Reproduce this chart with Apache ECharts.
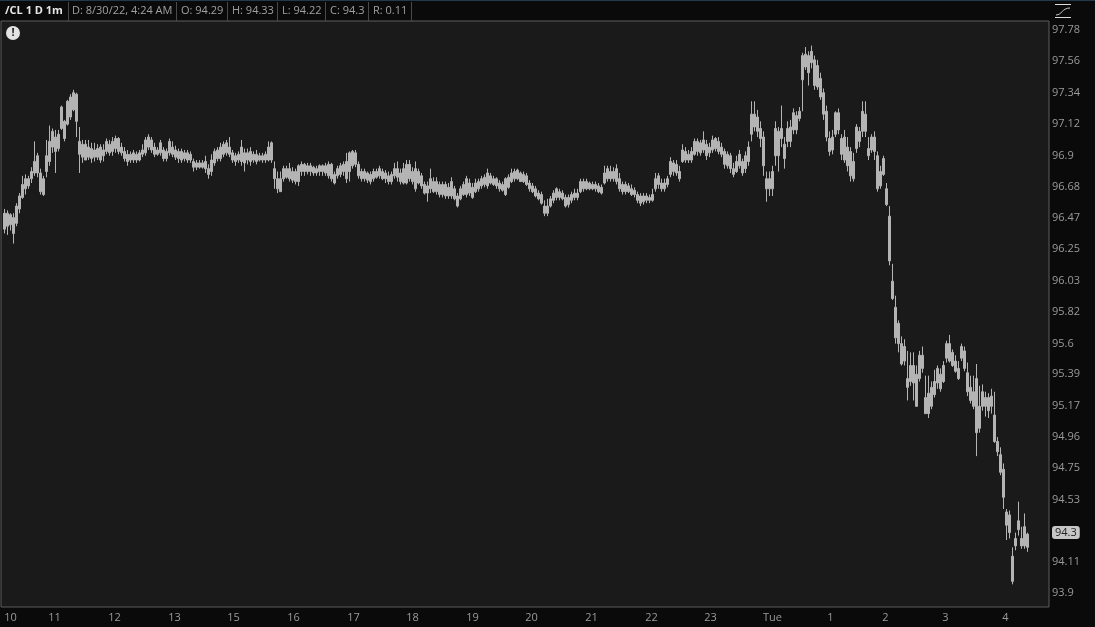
<!DOCTYPE html>
<html>
<head>
<meta charset="utf-8">
<style>html,body{margin:0;padding:0;background:#0a0a0a}#c{width:1095px;height:627px}</style>
<script src="https://cdn.jsdelivr.net/npm/echarts@6/dist/echarts.min.js"></script>
</head>
<body>
<div id="c"></div>
<script>
// Three-minute high/low bars, one row per hour.
const bodyTop = [
96.50,96.50,96.49,96.47,96.55,96.62,96.70,96.74,96.74,96.79,96.86,96.90,96.78,96.74,96.90,97.00,97.07,97.03,97.05,
97.24,97.14,97.28,97.31,97.34,97.33,97.00,96.98,96.98,96.96,96.95,96.94,96.95,96.96,96.94,97.00,96.98,97.00,97.02,97.02,
96.96,96.93,96.91,96.91,96.92,96.91,96.92,96.94,97.01,97.03,97.01,96.96,96.94,96.99,96.94,96.93,97.00,96.96,96.94,96.93,
96.93,96.92,96.92,96.91,96.86,96.85,96.85,96.85,96.86,96.81,96.87,96.93,96.94,96.96,96.98,96.99,96.96,96.92,96.90,96.91,
96.96,96.92,96.92,96.93,96.91,96.91,96.90,96.90,96.91,96.96,96.99,96.81,96.74,96.74,96.81,96.81,96.81,96.79,96.79,96.83,
96.84,96.84,96.83,96.83,96.82,96.81,96.83,96.83,96.83,96.84,96.84,96.77,96.81,96.83,96.84,96.86,96.92,96.93,96.92,96.84,
96.79,96.79,96.78,96.77,96.79,96.79,96.81,96.79,96.78,96.76,96.77,96.81,96.81,96.78,96.81,96.84,96.84,96.79,96.81,96.79,
96.76,96.70,96.69,96.74,96.72,96.72,96.70,96.70,96.70,96.68,96.72,96.67,96.62,96.67,96.70,96.74,96.71,96.68,96.71,96.72,
96.74,96.75,96.78,96.76,96.74,96.74,96.71,96.70,96.74,96.75,96.78,96.79,96.80,96.78,96.77,96.76,96.71,96.69,96.67,96.64,
96.63,96.55,96.55,96.60,96.64,96.67,96.65,96.64,96.61,96.61,96.63,96.64,96.64,96.72,96.72,96.72,96.71,96.70,96.70,96.69,
96.68,96.78,96.81,96.79,96.79,96.81,96.74,96.70,96.70,96.69,96.67,96.66,96.63,96.62,96.62,96.62,96.61,96.63,96.74,96.76,
96.71,96.71,96.74,96.86,96.85,96.84,96.79,96.94,96.93,96.91,96.93,97.00,97.00,96.99,97.01,96.98,96.96,97.01,97.02,97.00,
96.96,96.93,96.91,96.90,96.81,96.86,96.91,96.86,96.90,96.96,97.19,97.19,97.17,97.09,97.03,96.74,96.74,96.79,97.09,97.07,
97.09,96.98,97.09,97.10,97.20,97.18,97.21,97.60,97.61,97.60,97.63,97.57,97.53,97.44,97.34,97.21,97.02,97.03,97.20,97.20,
97.02,97.03,96.96,96.93,96.86,97.10,97.07,97.21,97.19,96.95,97.03,97.03,96.90,96.79,96.88,96.67,96.48,96.03,95.85,95.74,
95.60,95.58,95.36,95.45,95.45,95.39,95.52,95.52,95.23,95.26,95.30,95.34,95.43,95.39,95.45,95.60,95.60,95.54,95.48,95.43,
95.58,95.55,95.40,95.30,95.27,95.36,95.17,95.27,95.23,95.23,95.24,95.11,94.93,94.84,94.74,94.45,94.43,94.15,94.27,94.39,
94.27,94.35,94.30];
const bodyBottom = [
96.39,96.41,96.42,96.36,96.43,96.53,96.61,96.67,96.69,96.74,96.78,96.78,96.65,96.63,96.79,96.86,96.96,96.93,96.95,
97.09,97.02,97.12,97.17,97.22,97.14,96.91,96.89,96.87,96.89,96.88,96.89,96.89,96.87,96.90,96.93,96.92,96.93,96.95,96.93,
96.92,96.88,96.86,96.87,96.87,96.87,96.87,96.91,96.92,96.96,96.94,96.91,96.91,96.92,96.88,96.88,96.92,96.91,96.89,96.88,
96.87,96.88,96.87,96.87,96.82,96.82,96.82,96.82,96.81,96.77,96.79,96.85,96.88,96.88,96.91,96.92,96.91,96.87,96.86,96.87,
96.86,96.85,96.87,96.86,96.87,96.86,96.87,96.87,96.87,96.87,96.87,96.74,96.67,96.65,96.74,96.75,96.74,96.73,96.72,96.72,
96.79,96.79,96.79,96.79,96.78,96.78,96.79,96.79,96.78,96.76,96.74,96.71,96.76,96.77,96.79,96.74,96.79,96.83,96.84,96.76,
96.74,96.74,96.73,96.72,96.74,96.75,96.76,96.74,96.74,96.72,96.72,96.76,96.75,96.72,96.71,96.71,96.74,96.72,96.67,96.71,
96.69,96.64,96.64,96.67,96.65,96.65,96.63,96.63,96.62,96.62,96.62,96.60,96.55,96.60,96.63,96.63,96.64,96.61,96.65,96.67,
96.69,96.70,96.69,96.71,96.70,96.69,96.67,96.66,96.63,96.68,96.72,96.74,96.74,96.72,96.72,96.70,96.67,96.65,96.62,96.60,
96.57,96.50,96.50,96.55,96.59,96.61,96.61,96.60,96.55,96.56,96.59,96.61,96.61,96.65,96.67,96.67,96.67,96.67,96.67,96.65,
96.64,96.71,96.74,96.74,96.74,96.72,96.67,96.65,96.65,96.65,96.63,96.63,96.59,96.57,96.58,96.59,96.59,96.59,96.67,96.70,
96.67,96.67,96.70,96.77,96.79,96.78,96.74,96.86,96.87,96.87,96.87,96.91,96.93,96.92,96.94,96.90,96.92,96.94,96.95,96.93,
96.91,96.84,96.83,96.81,96.77,96.79,96.83,96.78,96.81,96.86,97.05,97.10,97.07,97.02,96.83,96.67,96.67,96.67,96.90,96.90,
97.02,96.88,97.00,97.00,97.08,97.08,97.16,97.43,97.52,97.48,97.55,97.39,97.38,97.31,97.19,97.03,96.93,96.94,97.05,97.08,
96.91,96.87,96.83,96.76,96.74,96.95,97.00,97.07,97.07,96.90,96.94,96.93,96.67,96.69,96.77,96.56,96.17,95.91,95.64,95.60,
95.46,95.48,95.30,95.34,95.33,95.17,95.36,95.43,95.12,95.12,95.17,95.25,95.33,95.29,95.34,95.50,95.48,95.45,95.41,95.36,
95.50,95.43,95.27,95.21,95.17,94.99,95.02,95.17,95.17,95.14,95.17,94.93,94.86,94.72,94.55,94.36,94.31,93.98,94.22,94.33,
94.22,94.22,94.21];
const wickHigh = [
96.53,96.52,96.50,96.50,96.57,96.64,96.76,96.77,96.76,96.82,97.00,96.92,96.81,96.76,97.01,97.11,97.09,97.08,97.08,
97.25,97.15,97.29,97.33,97.36,97.34,97.10,97.01,97.01,97.01,96.99,96.99,96.98,96.98,96.98,97.02,97.01,97.03,97.04,97.03,
96.99,96.96,96.94,96.93,96.94,96.93,96.94,96.98,97.03,97.05,97.03,96.99,96.96,97.01,96.96,96.95,97.02,97.00,96.97,96.95,
96.95,96.94,96.94,96.93,96.88,96.87,96.87,96.87,96.90,96.84,96.91,96.95,96.96,96.99,97.00,97.01,97.03,96.94,96.92,96.93,
97.01,96.95,96.95,96.96,96.93,96.94,96.92,96.92,96.93,97.00,97.00,96.86,96.79,96.79,96.83,96.83,96.85,96.82,96.81,96.84,
96.86,96.85,96.85,96.85,96.83,96.83,96.84,96.84,96.85,96.86,96.85,96.79,96.83,96.85,96.86,96.92,96.93,96.94,96.94,96.86,
96.81,96.81,96.79,96.79,96.81,96.81,96.83,96.81,96.80,96.79,96.79,96.85,96.86,96.81,96.85,96.87,96.87,96.82,96.86,96.81,
96.78,96.72,96.72,96.81,96.75,96.75,96.72,96.72,96.72,96.71,96.75,96.69,96.64,96.69,96.72,96.76,96.74,96.71,96.74,96.74,
96.76,96.77,96.81,96.78,96.76,96.75,96.73,96.72,96.75,96.77,96.81,96.81,96.81,96.79,96.79,96.78,96.73,96.71,96.69,96.66,
96.65,96.59,96.60,96.62,96.66,96.68,96.67,96.66,96.63,96.63,96.65,96.67,96.67,96.74,96.74,96.74,96.72,96.72,96.72,96.71,
96.70,96.83,96.83,96.83,96.82,96.84,96.78,96.72,96.72,96.71,96.70,96.68,96.65,96.64,96.64,96.64,96.63,96.67,96.78,96.78,
96.74,96.74,96.76,96.89,96.87,96.87,96.83,96.98,96.96,96.94,96.96,97.02,97.02,97.01,97.07,97.01,96.99,97.04,97.03,97.03,
96.99,96.95,96.93,96.92,96.85,96.90,96.94,96.88,96.93,97.00,97.28,97.28,97.22,97.14,97.07,96.79,96.79,96.83,97.14,97.10,
97.25,97.03,97.14,97.15,97.23,97.21,97.24,97.62,97.66,97.63,97.67,97.60,97.57,97.48,97.37,97.25,97.07,97.08,97.21,97.23,
97.05,97.08,97.03,96.96,96.92,97.12,97.10,97.28,97.28,97.03,97.05,97.07,96.93,96.83,96.90,96.71,96.55,96.15,95.93,95.76,
95.65,95.63,95.55,95.54,95.54,95.45,95.55,95.58,95.38,95.38,95.34,95.42,95.45,95.43,95.48,95.62,95.66,95.56,95.52,95.48,
95.60,95.58,95.47,95.38,95.38,95.46,95.31,95.32,95.27,95.26,95.29,95.27,94.96,94.89,94.78,94.47,94.46,94.21,94.31,94.52,
94.35,94.44,94.31];
const wickLow = [
96.36,96.35,96.38,96.29,96.41,96.50,96.60,96.63,96.67,96.71,96.76,96.75,96.63,96.62,96.75,96.83,96.92,96.78,96.93,
97.08,97.00,97.11,97.15,97.21,97.03,96.78,96.85,96.87,96.87,96.85,96.86,96.87,96.85,96.86,96.91,96.90,96.90,96.92,96.91,
96.90,96.86,96.83,96.85,96.85,96.85,96.86,96.89,96.90,96.94,96.92,96.89,96.90,96.90,96.86,96.86,96.90,96.89,96.87,96.85,
96.85,96.86,96.85,96.85,96.79,96.80,96.81,96.81,96.78,96.74,96.76,96.83,96.86,96.86,96.89,96.90,96.89,96.85,96.83,96.85,
96.83,96.79,96.84,96.83,96.85,96.84,96.86,96.85,96.85,96.86,96.85,96.67,96.64,96.65,96.72,96.74,96.72,96.71,96.70,96.69,
96.76,96.76,96.77,96.76,96.76,96.76,96.76,96.76,96.76,96.74,96.72,96.70,96.74,96.75,96.76,96.71,96.72,96.81,96.82,96.74,
96.72,96.72,96.71,96.70,96.72,96.74,96.74,96.73,96.71,96.70,96.70,96.74,96.72,96.70,96.70,96.70,96.72,96.70,96.65,96.70,
96.67,96.63,96.58,96.64,96.64,96.63,96.61,96.61,96.60,96.60,96.60,96.59,96.54,96.59,96.62,96.61,96.62,96.60,96.64,96.65,
96.67,96.68,96.67,96.70,96.69,96.67,96.65,96.65,96.62,96.67,96.71,96.72,96.73,96.72,96.71,96.69,96.65,96.64,96.61,96.59,
96.56,96.48,96.48,96.54,96.57,96.59,96.59,96.59,96.54,96.54,96.57,96.59,96.59,96.64,96.65,96.66,96.66,96.66,96.65,96.64,
96.63,96.70,96.72,96.72,96.72,96.70,96.65,96.63,96.63,96.64,96.62,96.61,96.57,96.55,96.56,96.57,96.57,96.58,96.65,96.67,
96.65,96.65,96.68,96.75,96.76,96.76,96.72,96.85,96.85,96.85,96.85,96.90,96.90,96.90,96.92,96.87,96.89,96.92,96.93,96.91,
96.89,96.81,96.81,96.78,96.75,96.78,96.81,96.76,96.78,96.83,97.00,97.07,97.03,96.96,96.76,96.58,96.62,96.62,96.83,96.79,
96.96,96.81,96.96,96.96,97.05,97.05,97.14,97.21,97.50,97.39,97.51,97.36,97.36,97.29,97.15,97.00,96.90,96.91,97.03,97.05,
96.87,96.85,96.79,96.72,96.72,96.92,96.96,97.03,97.03,96.87,96.92,96.87,96.65,96.67,96.76,96.55,96.14,95.90,95.60,95.54,
95.45,95.45,95.21,95.31,95.21,95.17,95.34,95.40,95.12,95.09,95.15,95.23,95.29,95.27,95.33,95.47,95.47,95.44,95.40,95.35,
95.48,95.41,95.24,95.19,95.15,94.83,94.99,95.14,95.10,95.09,95.12,94.92,94.83,94.70,94.47,94.26,94.27,93.96,94.19,94.29,
94.20,94.20,94.18];

const timeLabels = ['10','11','12','13','15','16','17','18','19','20','21','22','23','Tue','1','2','3','4'];
const timeSlots  = [9,53,113,173,232,292,352,411,471,530,590,650,709,771,829,884,944,1004];
const priceTicks = [97.78,97.56,97.34,97.12,96.9,96.68,96.47,96.25,96.03,95.82,95.6,95.39,95.17,94.96,94.75,94.53,94.31,94.11,93.9];
const lastPrice = 94.31;
const lastPriceText = '94.3';
const headerCells = [
  ['/CL 1 D 1m',5,true],['D: 8/30/22, 4:24 AM',72,false],['O: 94.29',181,false],['H: 94.33',232,false],
  ['L: 94.22',282,false],['C: 94.3',330,false],['R: 0.11',373,false]];
const headerSeps = [68,176,227,277,325,368,411];

const SLOTS = 1048, FIRST = 3, STEP = 3;
const cats = new Array(SLOTS).fill('');
timeSlots.forEach((s,i)=>{cats[s]=timeLabels[i];});
const candles = new Array(SLOTS).fill(null).map(()=>['-','-','-','-']);
bodyTop.forEach((t,k)=>{candles[FIRST+STEP*k]=[bodyBottom[k],t,wickLow[k],wickHigh[k]];});

const font = '"Open Sans", sans-serif';
const graphics = [
  {type:'rect',silent:true,shape:{x:0,y:0,width:1095,height:1},style:{fill:'#23394a'}},
];
headerSeps.forEach(x=>graphics.push({type:'rect',silent:true,shape:{x:x,y:2,width:1,height:19},style:{fill:'#4a4a4a'}}));
headerCells.forEach(c=>graphics.push({type:'text',silent:true,x:c[1],y:11,style:{text:c[0],font:(c[2]?'bold ':'')+'11px '+font,fill:c[2]?'#e6e6e6':'#a0a0a0',textVerticalAlign:'middle'}}));
graphics.push(
  {type:'circle',silent:true,shape:{cx:13,cy:33,r:7},style:{fill:'#e2e2e2'}},
  {type:'text',silent:true,x:13,y:33,style:{text:'!',font:'bold 11px '+font,fill:'#222',textAlign:'center',textVerticalAlign:'middle'}},
  {type:'rect',silent:true,shape:{x:1055,y:4,width:16,height:1},style:{fill:'#dcdcdc'}},
  {type:'rect',silent:true,shape:{x:1055,y:17,width:16,height:1},style:{fill:'#dcdcdc'}},
  {type:'bezierCurve',silent:true,shape:{x1:1056,y1:15,cpx1:1062,cpy1:15,cpx2:1062,cpy2:8,x2:1070,y2:8},style:{stroke:'#c8c8c8',lineWidth:1,fill:'none'}}
);

const chart = echarts.init(document.getElementById('c'),null,{renderer:'canvas'});
chart.setOption({
  animation:false,
  backgroundColor:'#0a0a0a',
  grid:{left:1,right:46,top:21,bottom:20,show:true,backgroundColor:'#1a1a1a',borderColor:'#5c5c5c',borderWidth:1},
  xAxis:{type:'category',data:cats,boundaryGap:true,
    axisLine:{show:false},axisTick:{show:false},splitLine:{show:false},
    axisLabel:{color:'#9a9a9a',fontFamily:font,fontSize:11,margin:5,hideOverlap:false,
      interval:(i)=>cats[i]!==''}},
  yAxis:{type:'log',logBase:Math.E,position:'right',min:93.807,max:97.843,
    axisLine:{show:false},axisTick:{show:false},splitLine:{show:false},minorTick:{show:false},minorSplitLine:{show:false},
    axisLabel:{customValues:priceTicks,color:'#9a9a9a',fontFamily:font,fontSize:11,margin:3,align:'left',
      formatter:(v)=>Math.abs(v-lastPrice)<0.001?'{b|'+lastPriceText+'}':String(Math.round(v*100)/100),
      rich:{b:{backgroundColor:'#c6c6c6',color:'#222',borderRadius:3,padding:[1,3,1,3],fontFamily:font,fontSize:11}}}},
  series:[{type:'candlestick',data:candles,barWidth:2,silent:true,large:false,
    itemStyle:{color:'#b4b4b4',color0:'#b4b4b4',borderColor:'#b4b4b4',borderColor0:'#b4b4b4',borderColorDoji:'#b4b4b4',borderWidth:1}}],
  graphic:{elements:graphics}
});
</script>
</body>
</html>
